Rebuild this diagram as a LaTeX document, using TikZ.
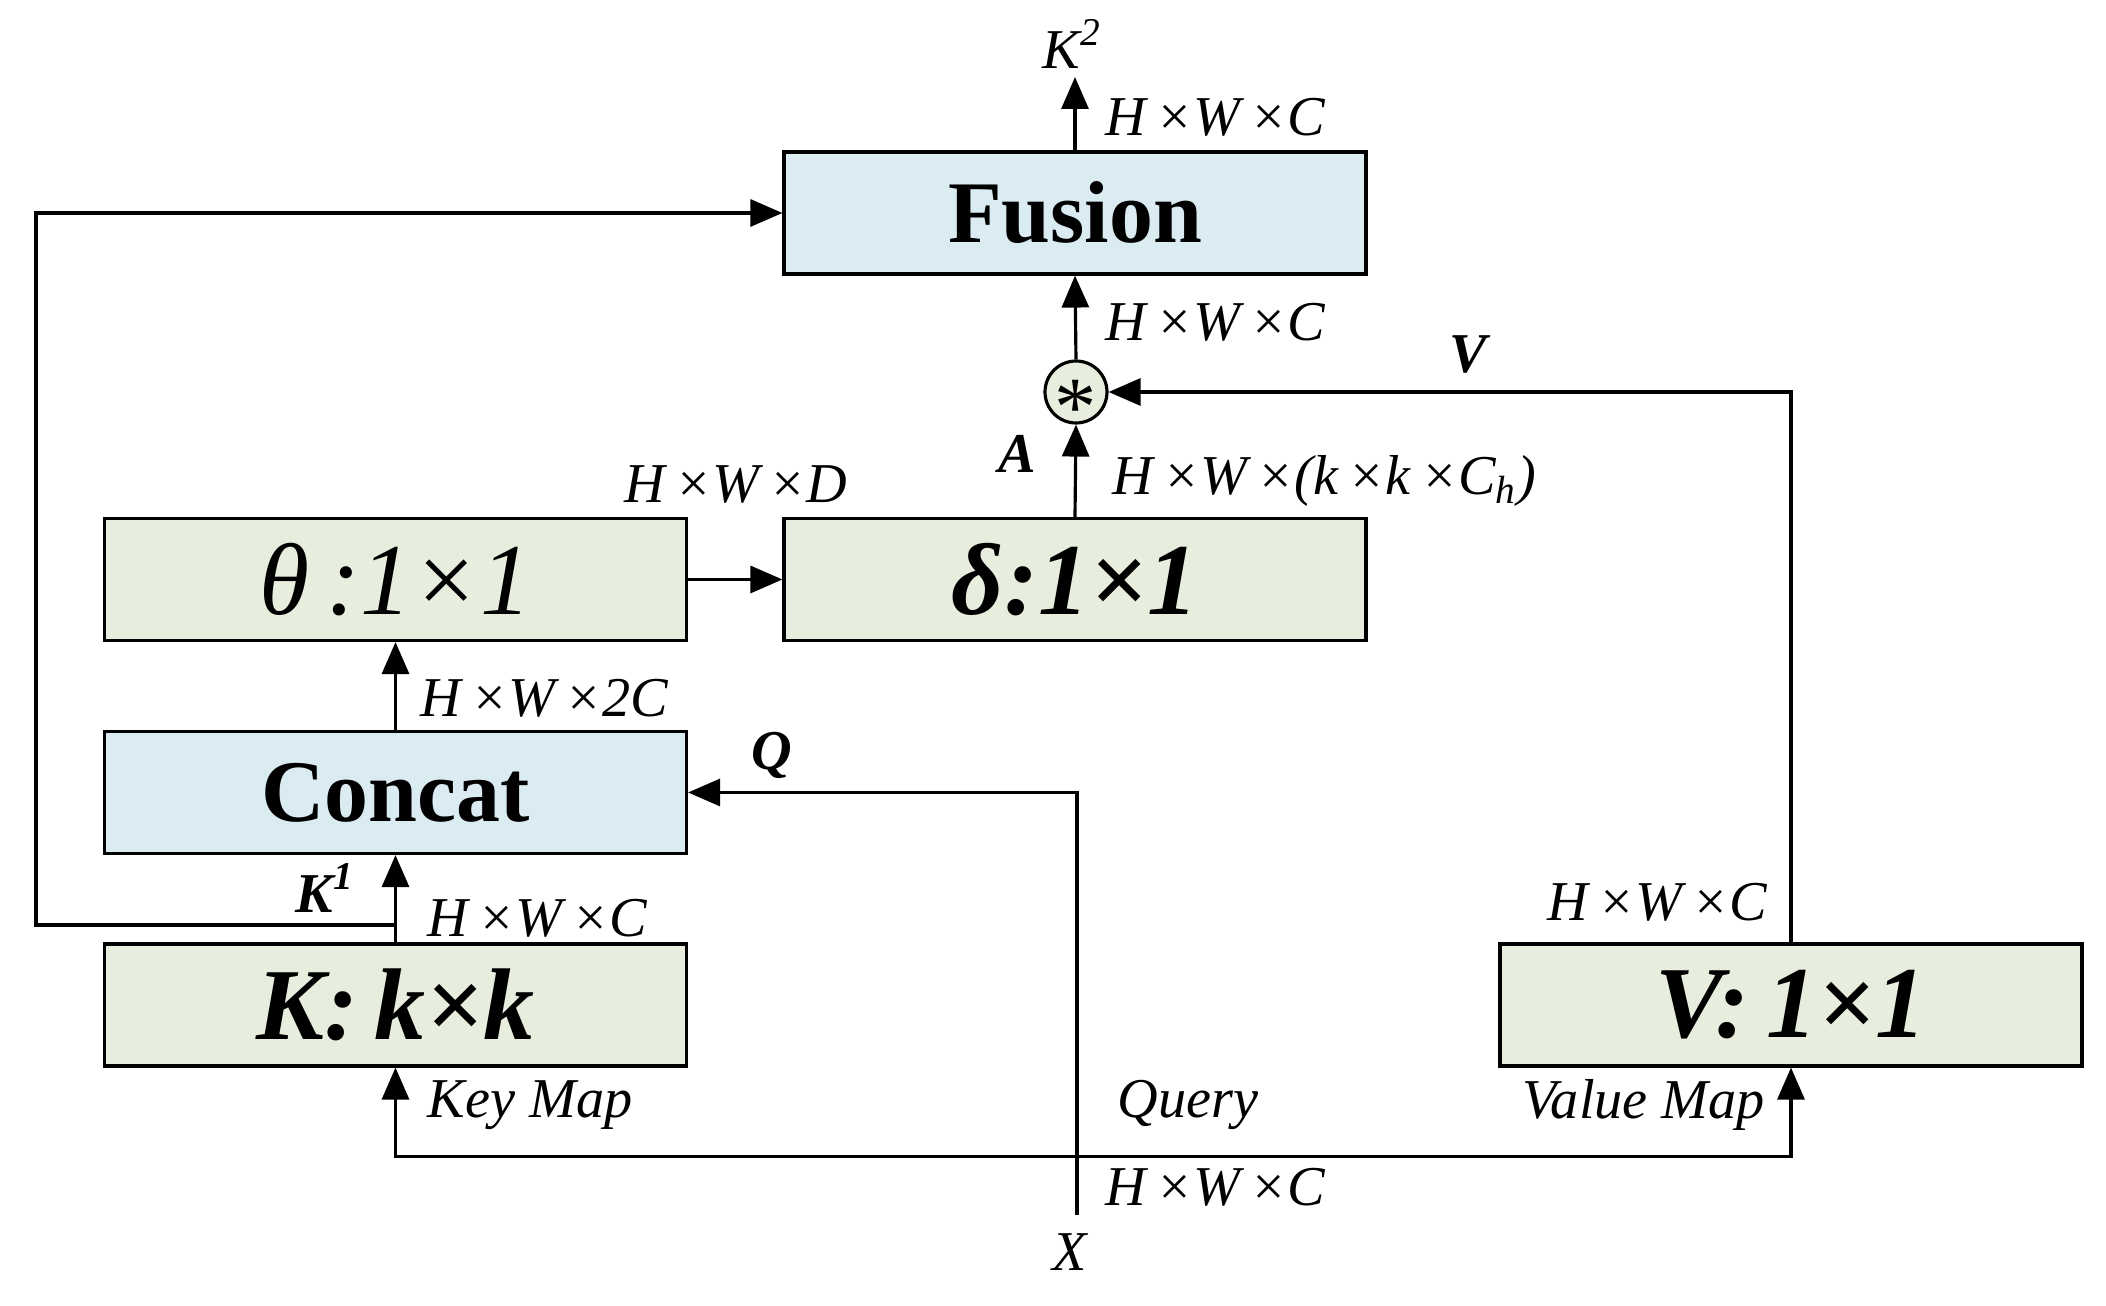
\documentclass[tikz,border=0pt]{standalone}
\usepackage{fontspec}
\setmainfont{Liberation Serif}
\usetikzlibrary{arrows.meta}
\definecolor{boxgreen}{HTML}{E8EEDD}
\definecolor{boxblue}{HTML}{DAECF2}
\begin{document}
\begin{tikzpicture}[
  blk/.style={draw, line width=0.9pt, minimum width=5.82cm, minimum height=1.22cm, inner sep=0pt, font=\fontsize{29}{29}\selectfont},
  gblk/.style={blk, fill=boxgreen},
  bblk/.style={blk, fill=boxblue, font=\fontsize{25}{25}\selectfont\bfseries},
  arr/.style={line width=0.9pt, -{Triangle[length=3.2mm,width=2.7mm]}},
  ln/.style={line width=0.9pt},
  dim/.style={font=\fontsize{16}{16}\selectfont\itshape, inner sep=0pt, anchor=west},
  lab/.style={font=\fontsize{16}{16}\selectfont\bfseries\itshape, inner sep=0pt}]
\useasboundingbox (0,0) rectangle (21.06,-13.06);
\node[bblk] (fusion) at (10.75,-2.13) {Fusion};
\node[gblk] (theta) at (3.955,-5.795) {\itshape θ\,:1×1};
\node[gblk] (delta) at (10.75,-5.795) {\bfseries\itshape δ:1×1};
\node[bblk] (concat) at (3.955,-7.925) {Concat};
\node[gblk] (key) at (3.955,-10.05) {\bfseries\itshape K:\,k×k};
\node[gblk] (value) at (17.91,-10.05) {\bfseries\itshape V:\,1×1};
\node[draw, line width=0.9pt, circle, fill=boxgreen, minimum size=0.62cm, inner sep=0pt,
  font=\fontsize{24}{24}\selectfont] (mult) at (10.76,-3.92) {\smash{\raisebox{-0.52em}{*}}};
\coordinate (k2) at (10.75,-0.77);
\coordinate (xin) at (10.77,-12.15);
\coordinate (split) at (3.955,-9.25);
\draw[arr] (fusion.north) -- (k2);
\draw[arr] (mult.north) -- (fusion.south);
\draw[arr] (delta.north) -- (mult.south);
\draw[arr] (value.north) |- (mult.east);
\draw[arr] (theta.east) -- (delta.west);
\draw[arr] (concat.north) -- (theta.south);
\draw[arr] (key.north) -- (concat.south);
\draw[arr] (split) -| (0.36,-5) |- (fusion.west);
\draw[arr] (xin) |- (concat.east);
\draw[{Triangle[length=3.2mm,width=2.7mm]}-{Triangle[length=3.2mm,width=2.7mm]}, ln]
  (key.south) -- ++(0,-0.89) -| (value.south);
\foreach \x/\y/\n in {11.05/-1.17/a, 11.05/-3.22/b, 4.27/-9.18/c, 15.47/-9.02/d, 11.05/-11.87/e}{
  \node[dim] (dim\n) at (\x,\y) {H\,×W\,×C};
}
\node[dim] (dimd) at (6.24,-4.85) {H\,×W\,×D};
\node[dim] (dimk) at (11.12,-4.81) {H\,×W\,×(k\,×k\,×C\textsubscript{h})};
\node[dim] (dimc) at (4.20,-6.98) {H\,×W\,×2C};
\node[dim] (keymap) at (4.27,-11.05) {Key Map};
\node[dim] (query) at (11.17,-11.05) {Query};
\node[dim] (valmap) at (15.22,-11.05) {Value Map};
\node[lab] (la) at (10.17,-4.54) {A};
\node[lab] (lv) at (14.68,-3.55) {V};
\node[lab] (lq) at (7.72,-7.55) {Q};
\node[lab] (lk1) at (3.25,-8.88) {K\textsuperscript{1}};
\node[dim, anchor=center] (lk2) at (10.72,-0.44) {K\textsuperscript{2}};
\node[dim, anchor=center] (lx) at (10.70,-12.52) {X};
\end{tikzpicture}
\end{document}
